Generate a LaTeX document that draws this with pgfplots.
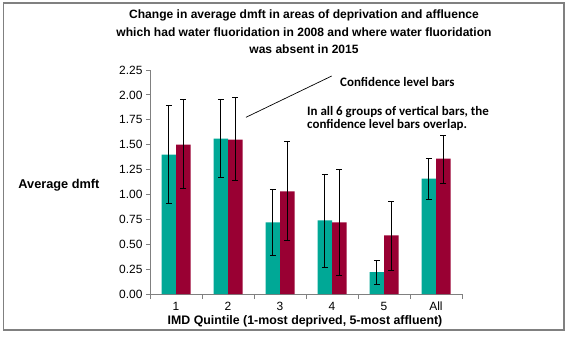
\documentclass[border=0pt]{standalone}
\usepackage{pgfplots}
\pgfplotsset{compat=1.18}
\usepackage{fontspec}
\setmainfont{Liberation Sans}
\newfontfamily\calibri{Carlito}
\definecolor{tealbar}{RGB}{0,168,150}
\definecolor{winebar}{RGB}{153,0,51}
\definecolor{framegray}{RGB}{128,128,128}
\pgfplotstableread{
x  y     ep    em
1  1.40  0.49  0.49
2  1.56  0.39  0.39
3  0.72  0.33  0.33
4  0.74  0.46  0.47
5  0.22  0.12  0.12
6  1.16  0.20  0.21
}\teal
\pgfplotstableread{
x  y     ep    em
1  1.50  0.45  0.44
2  1.55  0.42  0.41
3  1.03  0.50  0.49
4  0.72  0.53  0.53
5  0.59  0.34  0.35
6  1.36  0.23  0.25
}\wine
\begin{document}
\begin{tikzpicture}[x=1bp,y=1bp]
\path[use as bounding box] (0,0) rectangle (568,338);
\draw[framegray, line width=1.2bp] (3.5,8) rectangle (564,335);
\begin{axis}[
  at={(150bp,44bp)}, anchor=south west,
  scale only axis, width=312bp, height=224bp,
  xmin=0.5, xmax=6.5, ymin=0, ymax=2.25,
  axis lines*=left,
  axis line style={framegray, line width=0.8bp},
  tick align=outside,
  major tick length=4bp,
  minor tick length=5bp,
  ytick={0,0.25,0.5,0.75,1,1.25,1.5,1.75,2,2.25},
  yticklabel style={/pgf/number format/.cd, fixed, fixed zerofill, precision=2},
  /pgf/number format/assume math mode=true,
  ytick style={framegray, line width=0.8bp},
  xtick={1,2,3,4,5,6},
  xticklabels={1,2,3,4,5,All},
  major x tick style={draw=none},
  minor xtick={0.5,1.5,2.5,3.5,4.5,5.5,6.5},
  minor x tick style={framegray, line width=0.8bp},
  tick label style={font=\fontsize{12}{14}\selectfont, text=black},
  xticklabel style={inner sep=1bp, yshift=-3bp, text height=8.6bp, text depth=0bp},
  ybar=0pt, bar width=14.5bp,
  clip=false,
]
\addplot[fill=tealbar, draw=none,
  error bars/.cd, y dir=both, y explicit,
  error bar style={black, line width=0.9bp},
  error mark options={rotate=90, mark size=3bp, black, line width=0.9bp}]
  table[x=x, y=y, y error plus=ep, y error minus=em] {\teal};
\addplot[fill=winebar, draw=none,
  error bars/.cd, y dir=both, y explicit,
  error bar style={black, line width=0.9bp},
  error mark options={rotate=90, mark size=3bp, black, line width=0.9bp}]
  table[x=x, y=y, y error plus=ep, y error minus=em] {\wine};
\end{axis}
\node[font=\bfseries\fontsize{12.1}{17.5}\selectfont, align=center] at (304,306)
  {Change in average dmft in areas of deprivation and affluence\\
   which had water fluoridation in 2008 and where water fluoridation\\
   was absent in 2015};
\node[font=\bfseries\fontsize{12.8}{14}\selectfont] at (59,153) {Average dmft};
\node[font=\bfseries\fontsize{12.4}{14}\selectfont, anchor=base, inner sep=0pt] at (305,14)
  {IMD Quintile (1-most deprived, 5-most affluent)};
\draw[black, line width=0.7bp] (246,220.7) -- (331.7,262);
\node[font=\calibri\bfseries\fontsize{13}{15}\selectfont, anchor=west, inner sep=0pt] at (340,256.3)
  {Confidence level bars};
\node[font=\calibri\bfseries\fontsize{13}{13.3}\selectfont, anchor=west, align=left, inner sep=0pt] at (307,219.6)
  {In all 6 groups of vertical bars, the\\confidence level bars overlap.};
\end{tikzpicture}
\end{document}
